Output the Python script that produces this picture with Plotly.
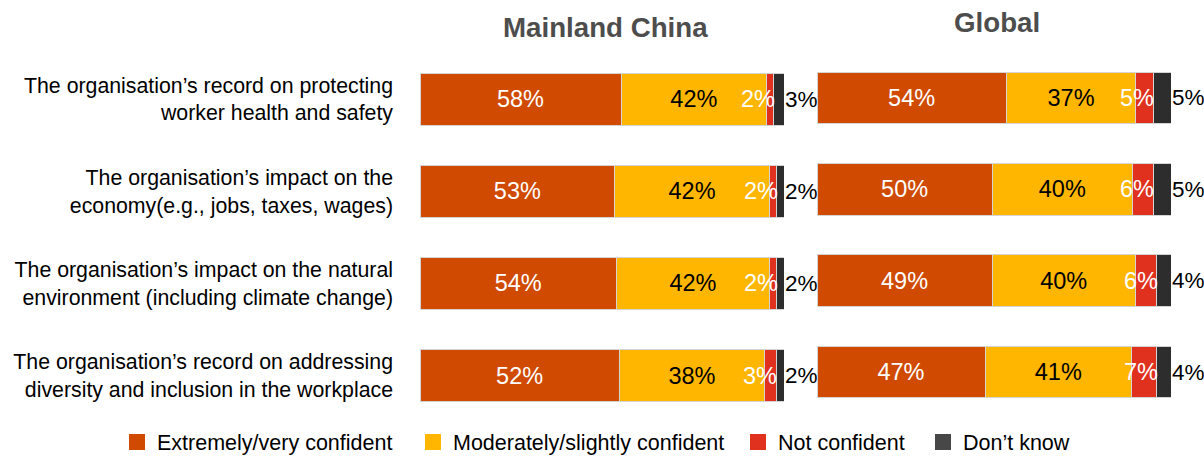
import plotly.graph_objects as go

# Survey statements (y categories)
statements = [
    "The organisation’s record on protecting<br>worker health and safety",
    "The organisation’s impact on the<br>economy(e.g., jobs, taxes, wages)",
    "The organisation’s impact on the natural<br>environment (including climate change)",
    "The organisation’s record on addressing<br>diversity and inclusion in the workplace",
]
levels = ["Extremely/very confident", "Moderately/slightly confident", "Not confident", "Don’t know"]

# Mainland China responses (%)
china_extremely = [58, 53, 54, 52]
china_moderately = [42, 42, 42, 38]
china_not = [2, 2, 2, 3]
china_dont_know = [3, 2, 2, 2]

# Global responses (%)
global_extremely = [54, 50, 49, 47]
global_moderately = [37, 40, 40, 41]
global_not = [5, 6, 6, 7]
global_dont_know = [5, 5, 4, 4]

colors = ["#D04A02", "#FFB600", "#E0301E", "#2D2D2D"]
legend_colors = ["#D04A02", "#FFB600", "#E0301E", "#474747"]
inside_text_colors = ["white", "black"]
FONT = "Liberation Sans, Arial, sans-serif"
W, H = 1204, 457

# one legend per response level so each entry sits at its own x position
legend_ids = ["legend", "legend2", "legend3", "legend4"]
legend_x = [117, 413, 738, 923]

panels = [
    ("x", "y", [china_extremely, china_moderately, china_not, china_dont_know]),
    ("x2", "y2", [global_extremely, global_moderately, global_not, global_dont_know]),
]

fig = go.Figure()
annotations = []

for xa, ya, series in panels:
    for k, (name, vals, col) in enumerate(zip(levels, series, colors)):
        inside = k < 2
        fig.add_trace(go.Bar(
            orientation="h",
            x=vals,
            y=statements,
            name=name,
            xaxis=xa,
            yaxis=ya,
            width=0.565,
            marker=dict(color=col, line=dict(color="#d4d4d4", width=1)),
            text=[f"{v}%" for v in vals],
            texttemplate="%{text}" if inside else None,
            textposition="inside" if inside else "none",
            insidetextanchor="middle",
            textfont=dict(family=FONT, size=23.5,
                          color=inside_text_colors[k] if inside else "black"),
            showlegend=False,
            hoverinfo="skip",
        ))

    # Labels for the two narrow segments, placed from the normalised cumulative shares
    for i in range(len(statements)):
        row = [s[i] for s in series]
        total = sum(row)
        red_end = (row[0] + row[1] + row[2]) / total * 100
        annotations.append(dict(
            x=red_end, y=statements[i], xref=xa, yref=ya,
            text=f"{row[2]}%", showarrow=False, xanchor="right", xshift=3,
            font=dict(family=FONT, size=23.5, color="white"),
        ))
        annotations.append(dict(
            x=100, y=statements[i], xref=xa, yref=ya,
            text=f"{row[3]}%", showarrow=False, xanchor="left", xshift=0,
            borderpad=0,
            font=dict(family=FONT, size=22.5, color="black"),
        ))

# Legend keys: square markers for each response level
for name, col, lid in zip(levels, legend_colors, legend_ids):
    fig.add_trace(go.Scatter(
        x=[None], y=[None], mode="markers", name=name,
        marker=dict(symbol="square", size=16, color=col),
        legend=lid, showlegend=True, hoverinfo="skip",
    ))

# Panel titles
annotations.append(dict(x=605 / W, y=1 - 27 / H, xref="paper", yref="paper",
                        text="<b>Mainland China</b>", showarrow=False,
                        xanchor="center", yanchor="middle",
                        font=dict(family=FONT, size=27.7, color="#4D4D4D")))
annotations.append(dict(x=997 / W, y=1 - 22 / H, xref="paper", yref="paper",
                        text="<b>Global</b>", showarrow=False,
                        xanchor="center", yanchor="middle",
                        font=dict(family=FONT, size=27.7, color="#4D4D4D")))

legend_style = dict(orientation="h", xanchor="left",
                    y=1 - 442 / H, yanchor="middle",
                    font=dict(family=FONT, size=21.5, color="black"),
                    bgcolor="rgba(0,0,0,0)")

fig.update_layout(
    width=W, height=H,
    margin=dict(l=0, r=0, t=0, b=0, autoexpand=False),
    barmode="stack",
    barnorm="percent",
    plot_bgcolor="white",
    paper_bgcolor="white",
    font=dict(family=FONT, size=21.3, color="black"),
    annotations=annotations,
    xaxis=dict(domain=[420 / W, 784 / W], range=[0, 100], visible=False, fixedrange=True),
    xaxis2=dict(domain=[817 / W, 1171 / W], range=[0, 100], visible=False, fixedrange=True),
    yaxis=dict(domain=[1 - 421.6 / H, 1 - 53 / H], type="category",
               categoryorder="array", categoryarray=statements,
               range=[3.5, -0.5], showline=False, showgrid=False, zeroline=False,
               ticks="", ticklabelstandoff=26, automargin=False,
               tickfont=dict(family=FONT, size=21.3, color="black")),
    yaxis2=dict(domain=[1 - 417.7 / H, 1 - 52.3 / H], anchor="x2", type="category",
                categoryorder="array", categoryarray=statements,
                range=[3.5, -0.5], showticklabels=False, showline=False,
                showgrid=False, zeroline=False, ticks="", automargin=False),
)
for lid, lx in zip(legend_ids, legend_x):
    fig.update_layout({lid: dict(legend_style, x=lx / W)})

fig.write_html("out.html")
